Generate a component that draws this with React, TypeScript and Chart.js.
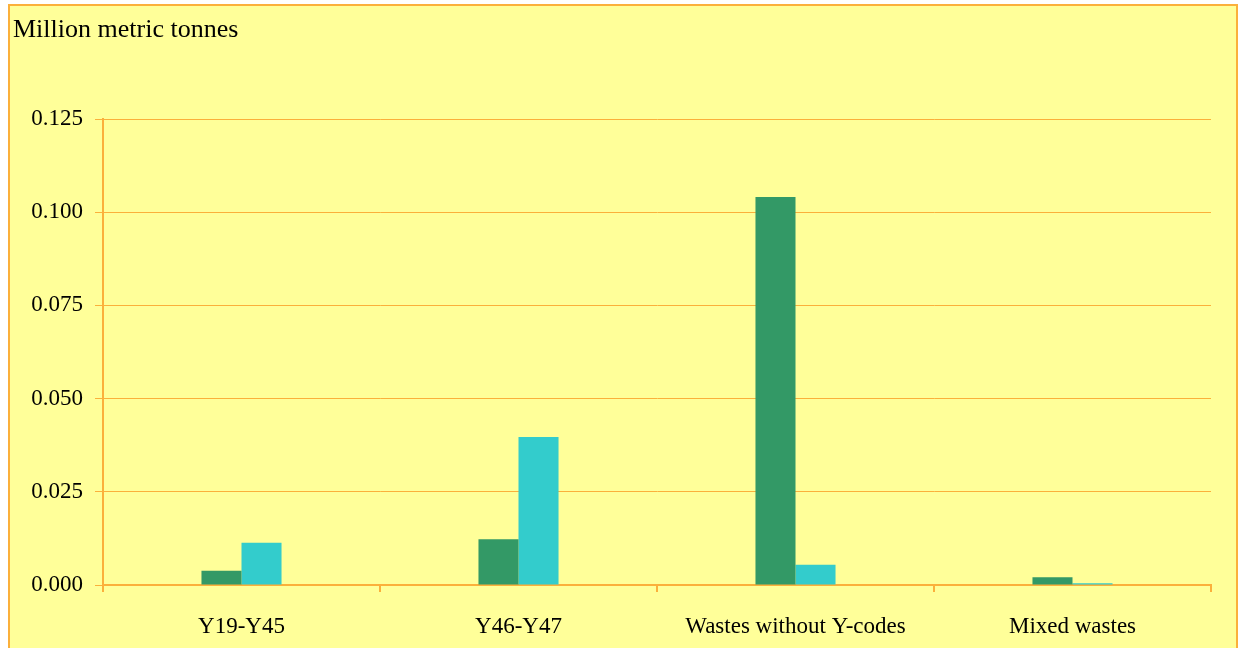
import React, { useEffect, useRef } from "react";
import { Chart, registerables } from "chart.js";

Chart.register(...registerables);

const categories = ["Y19-Y45", "Y46-Y47", "Wastes without Y-codes", "Mixed wastes"];
const seriesGreen = [0.0038, 0.0123, 0.1041, 0.0021];
const seriesCyan = [0.0113, 0.0397, 0.0054, 0.0005];
const yTitle = "Million metric tonnes";

const ORANGE = "#FBB03B";
const FONT = "'Liberation Serif', 'Times New Roman', serif";

const framePlugin = {
  id: "frame",
  beforeDraw(chart: any) {
    const { ctx, width, height } = chart;
    ctx.save();
    ctx.fillStyle = "#FFFFFF";
    ctx.fillRect(0, 0, width, height);
    ctx.fillStyle = "#FFFF99";
    ctx.fillRect(9, 5, width - 10, height);
    ctx.strokeStyle = ORANGE;
    ctx.lineWidth = 2;
    ctx.strokeRect(9, 5, width - 11, height + 10);
    ctx.fillStyle = "#000000";
    ctx.font = `26px ${FONT}`;
    ctx.textBaseline = "alphabetic";
    ctx.textAlign = "left";
    ctx.fillText(yTitle, 13, 37);
    ctx.restore();
  },
};

export default function App() {
  const ref = useRef<HTMLCanvasElement>(null);
  useEffect(() => {
    if (!ref.current) return;
    const chart = new Chart(ref.current, {
      type: "bar",
      data: {
        labels: categories,
        datasets: [
          { data: seriesGreen, backgroundColor: "#339966", barPercentage: 1, categoryPercentage: 0.289 },
          { data: seriesCyan, backgroundColor: "#33CCCC", barPercentage: 1, categoryPercentage: 0.289 },
        ],
      },
      options: {
        responsive: false,
        animation: false,
        devicePixelRatio: 1,
        layout: { padding: { top: 119, right: 28, left: 0, bottom: 0 } },
        plugins: { legend: { display: false }, tooltip: { enabled: false }, title: { display: false } },
        scales: {
          x: {
            grid: {
              offset: true,
              drawOnChartArea: true,
              color: (c: any) => (c.index === categories.length ? ORANGE : "rgba(0,0,0,0)"),
              tickColor: ORANGE,
              tickLength: 7,
              lineWidth: 2,
            },
            border: { color: ORANGE, width: 2 },
            ticks: { color: "#000", font: { family: FONT, size: 23 }, padding: 21, maxRotation: 0, autoSkip: false },
            afterFit: (s: any) => { s.height = 648 - 585; },
          },
          y: {
            min: 0,
            max: 0.125,
            ticks: {
              stepSize: 0.025,
              color: "#000",
              font: { family: FONT, size: 23 },
              padding: 12,
              callback: (v: any) => Number(v).toFixed(3),
            },
            grid: { color: ORANGE, tickColor: ORANGE, tickLength: 8, lineWidth: 1 },
            border: { color: ORANGE, width: 2 },
            afterFit: (s: any) => { s.width = 103; },
          },
        },
      },
      plugins: [framePlugin],
    });
    return () => chart.destroy();
  }, []);
  return (
    <div style={{ position: "fixed", left: 0, top: 0, width: 1239, height: 648 }}>
      <canvas ref={ref} width={1239} height={648} style={{ display: "block" }} />
    </div>
  );
}
